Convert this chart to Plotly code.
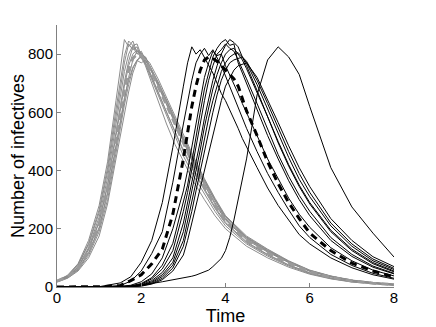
import plotly.graph_objects as go

# time grids
t_gray = [0, 0.25, 0.5, 0.75, 1.0, 1.2, 1.4, 1.5, 1.6, 1.7, 1.8, 1.9, 2.0, 2.1, 2.2, 2.4,
          2.6, 2.8, 3.0, 3.25, 3.5, 3.75, 4.0, 4.5, 5.0, 5.5, 6.0, 6.5, 7.0, 7.5, 8.0]
t_black = [0, 0.5, 1.0, 1.5, 1.75, 2.0, 2.25, 2.5, 2.75, 3.0, 3.1, 3.2, 3.3, 3.4, 3.5, 3.6,
           3.7, 3.8, 3.9, 4.0, 4.1, 4.2, 4.3, 4.4, 4.5, 4.75, 5.0, 5.25, 5.5, 5.75, 6.0,
           6.5, 7.0, 7.5, 8.0]

# gray runs (early epidemic)
gray_runs = [
    [22, 40, 80, 160, 280, 430, 640, 740, 850, 825, 845, 805, 790, 760, 720, 640, 560, 490, 430, 360, 300, 245, 200, 140, 100, 68, 44, 28, 17, 11, 6],
    [20, 38, 75, 145, 255, 395, 585, 680, 770, 835, 815, 825, 785, 770, 735, 665, 600, 535, 470, 400, 335, 275, 222, 155, 112, 76, 49, 31, 19, 12, 7],
    [18, 34, 66, 130, 225, 350, 530, 620, 705, 775, 825, 800, 810, 780, 755, 690, 625, 560, 495, 420, 350, 285, 230, 162, 120, 84, 54, 35, 22, 14, 9],
    [20, 33, 60, 115, 200, 320, 480, 565, 650, 720, 780, 810, 795, 790, 760, 700, 640, 570, 505, 430, 360, 295, 235, 168, 124, 86, 55, 36, 23, 15, 9],
    [18, 30, 55, 100, 175, 285, 440, 520, 600, 670, 735, 775, 800, 785, 770, 715, 650, 585, 520, 445, 372, 305, 245, 175, 130, 90, 58, 38, 24, 15, 10],
    [22, 36, 62, 118, 205, 325, 485, 570, 650, 710, 755, 778, 770, 780, 750, 700, 640, 575, 510, 435, 365, 300, 240, 170, 125, 88, 56, 37, 23, 14, 9],
    [21, 37, 70, 135, 240, 375, 560, 655, 740, 800, 830, 810, 805, 770, 740, 670, 600, 530, 465, 395, 330, 270, 218, 152, 110, 75, 48, 30, 19, 12, 7],
    [19, 35, 68, 128, 222, 348, 520, 610, 690, 760, 800, 815, 800, 790, 760, 695, 630, 565, 500, 425, 355, 290, 232, 165, 122, 85, 55, 36, 22, 14, 8],
    [20, 39, 78, 150, 265, 410, 610, 705, 795, 845, 830, 835, 795, 765, 730, 655, 585, 515, 450, 380, 318, 260, 210, 148, 106, 72, 46, 29, 18, 11, 6],
    [17, 31, 58, 108, 190, 300, 460, 545, 625, 695, 750, 780, 790, 775, 760, 705, 645, 580, 515, 440, 368, 300, 242, 172, 128, 88, 57, 37, 23, 14, 9],
]
gray_mean = [20, 35, 65, 125, 215, 340, 510, 600, 680, 745, 785, 800, 795, 775, 750, 690,
             625, 555, 490, 415, 345, 280, 225, 160, 118, 82, 52, 33, 21, 13, 8]

# black runs (delayed epidemic)
black_runs = [
    [0, 0, 1, 14, 35, 85, 160, 290, 480, 690, 770, 825, 800, 815, 790, 760, 735, 700, 665, 640, 610, 575, 545, 510, 480, 410, 340, 280, 230, 180, 148, 100, 66, 42, 27],
    [0, 0, 0, 5, 20, 55, 115, 190, 360, 560, 640, 710, 770, 800, 820, 795, 815, 790, 760, 725, 690, 650, 615, 580, 545, 465, 390, 325, 265, 210, 170, 112, 74, 47, 30],
    [0, 0, 0, 2, 6, 18, 45, 100, 200, 330, 400, 480, 570, 650, 720, 770, 810, 795, 800, 760, 730, 700, 665, 630, 600, 520, 440, 370, 305, 250, 205, 135, 90, 58, 38],
    [0, 0, 0, 1, 4, 12, 32, 75, 150, 290, 350, 430, 520, 600, 680, 740, 790, 820, 840, 850, 830, 835, 770, 735, 700, 610, 520, 440, 365, 300, 245, 160, 105, 68, 45],
    [0, 0, 0, 1, 3, 10, 28, 62, 125, 260, 325, 400, 480, 560, 640, 710, 760, 800, 815, 835, 820, 810, 780, 750, 715, 630, 540, 455, 380, 315, 260, 170, 112, 72, 47],
    [0, 0, 0, 0, 2, 8, 22, 50, 100, 220, 290, 350, 420, 500, 580, 650, 710, 760, 800, 830, 850, 840, 825, 790, 760, 675, 585, 495, 415, 345, 285, 190, 125, 80, 52],
    [0, 0, 0, 0, 2, 6, 18, 42, 85, 190, 260, 325, 400, 470, 550, 620, 680, 730, 770, 800, 815, 820, 800, 780, 750, 670, 585, 500, 420, 350, 290, 195, 130, 84, 55],
    [0, 0, 0, 0, 1, 5, 15, 36, 75, 160, 225, 295, 360, 435, 510, 580, 640, 695, 740, 770, 790, 800, 805, 790, 770, 695, 610, 525, 445, 370, 310, 210, 140, 90, 60],
    [0, 0, 0, 0, 1, 4, 12, 30, 65, 140, 195, 260, 330, 400, 470, 540, 600, 660, 710, 745, 770, 780, 785, 790, 775, 710, 630, 545, 465, 390, 325, 220, 148, 96, 64],
    [0, 0, 0, 0, 1, 3, 10, 25, 55, 110, 160, 220, 280, 340, 400, 465, 530, 590, 640, 690, 720, 745, 760, 765, 770, 720, 645, 565, 485, 410, 345, 235, 160, 104, 70],
    [0, 0, 0, 1, 3, 7, 12, 18, 24, 30, 33, 37, 41, 46, 52, 58, 70, 85, 98, 125, 170, 230, 300, 370, 440, 660, 780, 825, 790, 730, 620, 410, 275, 185, 103],
]
black_mean = [0, 0, 1, 5, 22, 42, 80, 130, 250, 440, 530, 620, 690, 745, 780, 790, 785,
              775, 760, 745, 730, 715, 690, 650, 605, 520, 430, 355, 290, 235, 185, 125,
              82, 55, 35]

x_ticks = [0, 2, 4, 6, 8]
y_ticks = [0, 200, 400, 600, 800]

fig = go.Figure()

for run in gray_runs:
    fig.add_trace(go.Scatter(x=t_gray, y=run, mode="lines",
                             line=dict(color="#8c8c8c", width=1)))
fig.add_trace(go.Scatter(x=t_gray, y=gray_mean, mode="lines",
                         line=dict(color="#9a9a9a", width=3, dash="7px,5px")))

for run in black_runs:
    fig.add_trace(go.Scatter(x=t_black, y=run, mode="lines",
                             line=dict(color="black", width=1)))
fig.add_trace(go.Scatter(x=t_black, y=black_mean, mode="lines",
                         line=dict(color="black", width=3, dash="7px,5px")))

axis_style = dict(showgrid=False, zeroline=False, showline=True, linecolor="#808080",
                  linewidth=1, ticks="inside", ticklen=4, tickcolor="#808080",
                  automargin=False, tickfont=dict(size=15, color="black"))

# page body has an 8px margin, so the figure is a bit smaller than the window
fig.update_layout(
    width=428, height=319,
    margin=dict(l=49, r=42, t=17, b=40),
    plot_bgcolor="white", paper_bgcolor="white",
    showlegend=False,
    font=dict(family="Liberation Sans, Arial, sans-serif", size=15, color="black"),
    xaxis=dict(range=[0, 8], tickvals=x_ticks, ticklabelstandoff=-3,
               title=dict(text="Time", standoff=0), **axis_style),
    yaxis=dict(range=[0, 900], tickvals=y_ticks,
               title=dict(text="Number of infectives", standoff=0), **axis_style),
)

fig.write_html("out.html")
